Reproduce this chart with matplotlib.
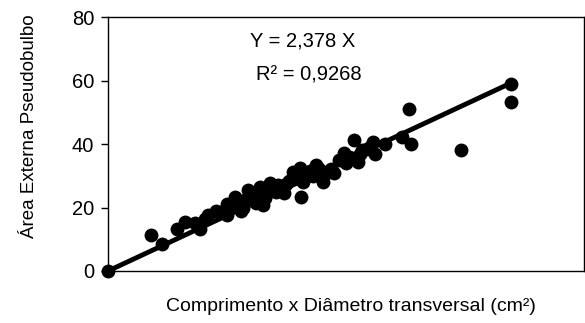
import matplotlib
matplotlib.use("Agg")
import matplotlib.pyplot as plt
import numpy as np

plt.rcParams['font.family'] = ['Liberation Sans', 'DejaVu Sans']

x_vals = [0.0, 2.63, 3.31, 4.28, 4.75, 5.37, 5.68, 6.0, 6.2, 6.67, 7.0, 7.33, 7.37,
          7.6, 7.84, 8.0, 8.2, 8.35, 8.46, 8.66, 8.8, 9.0, 9.18, 9.3, 9.38, 9.5,
          9.59, 9.7, 9.8, 9.9, 10.0, 10.2, 10.4, 10.5, 10.7, 10.9, 11.0, 11.2,
          11.44, 11.5, 11.7, 11.85, 11.95, 12.06, 12.2, 12.4, 12.5, 12.7, 12.88,
          13.0, 13.1, 13.3, 13.5, 13.8, 14.0, 14.3, 14.6, 14.7, 14.9, 15.1, 15.2,
          15.45, 15.6, 15.7, 16.0, 16.2, 16.4, 16.5, 17.1, 18.2, 18.6, 18.75,
          21.8, 24.9, 24.9]
y_vals = [0.0, 11.5, 8.5, 13.1, 15.5, 15.2, 13.1, 16.5, 17.5, 19.0, 18.5, 21.1, 17.6,
          20.5, 23.2, 21.5, 19.0, 19.7, 22.4, 25.5, 23.5, 22.0, 21.3, 24.0, 26.6, 25.5,
          20.8, 23.0, 24.5, 26.0, 27.6, 26.5, 25.0, 27.0, 26.0, 24.5, 27.5, 28.5,
          31.3, 29.0, 30.0, 32.3, 23.4, 28.1, 29.5, 30.8, 31.5, 30.0, 33.4,
          32.5, 31.8, 28.1, 31.0, 32.0, 30.8, 35.0, 37.1, 33.9, 36.0, 35.5, 41.3,
          34.4, 37.0, 38.1, 38.5, 39.0, 40.7, 36.9, 40.0, 42.3, 50.9, 40.0,
          38.1, 58.9, 53.3]
slope = 2.378
eq_text = "Y = 2,378 X"
r2_text = "R² = 0,9268"
y_ticks = [0, 20, 40, 60, 80]
x_label = "Comprimento x Diâmetro transversal (cm²)"
y_label = "Área Externa Pseudobulbo"

fig = plt.figure(figsize=(5.85, 3.23), dpi=100)
ax = fig.add_axes([0.1846, 0.161, 0.813, 0.786])

ax.scatter(x_vals, y_vals, s=100, color='black', zorder=3, linewidths=0, clip_on=False)
xl = np.array([0.0, max(x_vals)])
ax.plot(xl, slope * xl, color='black', lw=3.5, solid_capstyle='butt', zorder=2)

ax.set_xlim(0, 29.4)
ax.set_ylim(0, 80)
ax.set_yticks(y_ticks)
ax.set_xticks([])
ax.tick_params(axis='y', direction='out', length=5, width=1, labelsize=14.5, pad=5)
for sp in ax.spines.values():
    sp.set_linewidth(1)
    sp.set_color('black')
ax.set_xlabel(x_label, fontsize=14)
ax.xaxis.set_label_coords(0.51, -0.105)
ax.set_ylabel(y_label, fontsize=13.5)
ax.yaxis.set_label_coords(-0.148, 0.57)

ax.text(0.41, 0.906, eq_text, transform=ax.transAxes, ha='center', va='center', fontsize=14.5)
ax.text(0.422, 0.772, r2_text, transform=ax.transAxes, ha='center', va='center', fontsize=14.5)

fig.savefig("out.png", dpi=100)
